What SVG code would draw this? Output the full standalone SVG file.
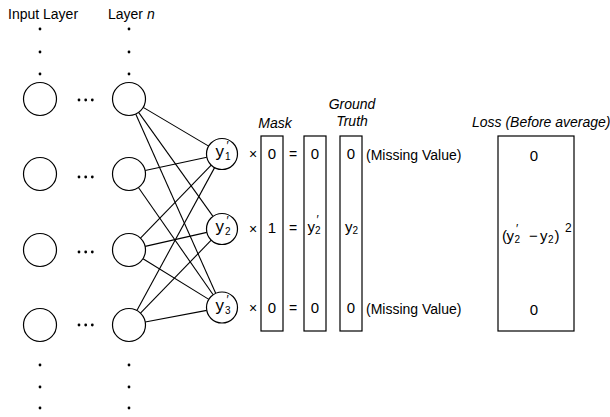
<svg xmlns="http://www.w3.org/2000/svg" width="610" height="417" viewBox="0 0 610 417">
<style>
text{font-family:"Liberation Sans",Arial,Helvetica,sans-serif;fill:#000;}
.lbl{font-size:14px;}
.it{font-size:14px;font-style:italic;}
.num{font-size:15px;text-anchor:middle;}
.op{font-size:14px;text-anchor:middle;}
.y{font-size:17px;}
.y15{font-size:15px;}
.sub{font-size:10px;}
.pr{font-size:12px;}
.node{fill:#fff;stroke:#000;stroke-width:1.2;}
.box{fill:#fff;stroke:#000;stroke-width:1.2;}
.edge{stroke:#000;stroke-width:1.1;fill:none;}
.dot{fill:#000;}
</style>
<rect width="610" height="417" fill="#fff"/>
<g id="titles">
<text class="lbl" x="8" y="19">Input Layer</text>
<text class="lbl" x="108" y="19">Layer <tspan font-style="italic">n</tspan></text>
<text class="it" x="275" y="128" text-anchor="middle">Mask</text>
<text class="it" x="352" y="109" text-anchor="middle">Ground</text>
<text class="it" x="352" y="126" text-anchor="middle">Truth</text>
<text class="it" x="472" y="127">Loss (Before average)</text>
</g>
<g id="dots">
<circle class="dot" cx="40" cy="29" r="1.4"/><circle class="dot" cx="40" cy="52" r="1.4"/><circle class="dot" cx="40" cy="74" r="1.4"/>
<circle class="dot" cx="129" cy="29" r="1.4"/><circle class="dot" cx="129" cy="52" r="1.4"/><circle class="dot" cx="129" cy="74" r="1.4"/>
<circle class="dot" cx="40" cy="365" r="1.4"/><circle class="dot" cx="40" cy="387" r="1.4"/><circle class="dot" cx="40" cy="408" r="1.4"/>
<circle class="dot" cx="129" cy="365" r="1.4"/><circle class="dot" cx="129" cy="387" r="1.4"/><circle class="dot" cx="129" cy="408" r="1.4"/>
<circle class="dot" cx="79" cy="100" r="1.4"/><circle class="dot" cx="85.7" cy="100" r="1.4"/><circle class="dot" cx="92.3" cy="100" r="1.4"/>
<circle class="dot" cx="79" cy="177" r="1.4"/><circle class="dot" cx="85.7" cy="177" r="1.4"/><circle class="dot" cx="92.3" cy="177" r="1.4"/>
<circle class="dot" cx="79" cy="252" r="1.4"/><circle class="dot" cx="85.7" cy="252" r="1.4"/><circle class="dot" cx="92.3" cy="252" r="1.4"/>
<circle class="dot" cx="79" cy="325" r="1.4"/><circle class="dot" cx="85.7" cy="325" r="1.4"/><circle class="dot" cx="92.3" cy="325" r="1.4"/>
</g>
<g id="connectors">
<line class="edge" x1="143.20" y1="107.40" x2="208.66" y2="146.11"/>
<line class="edge" x1="138.60" y1="112.42" x2="212.98" y2="216.39"/>
<line class="edge" x1="135.72" y1="114.07" x2="215.69" y2="293.34"/>
<line class="edge" x1="145.13" y1="170.53" x2="206.85" y2="157.26"/>
<line class="edge" x1="138.43" y1="187.54" x2="213.14" y2="294.78"/>
<line class="edge" x1="140.48" y1="238.15" x2="211.22" y2="165.13"/>
<line class="edge" x1="145.10" y1="246.37" x2="206.88" y2="232.41"/>
<line class="edge" x1="143.03" y1="258.68" x2="208.82" y2="299.35"/>
<line class="edge" x1="136.88" y1="310.50" x2="214.59" y2="167.62"/>
<line class="edge" x1="140.48" y1="313.15" x2="211.22" y2="240.13"/>
<line class="edge" x1="145.22" y1="321.95" x2="206.77" y2="310.37"/>
</g>
<g id="input-1"><circle class="node" cx="40" cy="99" r="16.5"/></g>
<g id="input-2"><circle class="node" cx="40" cy="174" r="16.5"/></g>
<g id="input-3"><circle class="node" cx="40" cy="250" r="16.5"/></g>
<g id="input-4"><circle class="node" cx="40" cy="325" r="16.5"/></g>
<g id="layer-n-1"><circle class="node" cx="129" cy="99" r="16.5"/></g>
<g id="layer-n-2"><circle class="node" cx="129" cy="174" r="16.5"/></g>
<g id="layer-n-3"><circle class="node" cx="129" cy="250" r="16.5"/></g>
<g id="layer-n-4"><circle class="node" cx="129" cy="325" r="16.5"/></g>
<g id="out-1"><circle class="node" cx="222" cy="154" r="15.5"/>
<text class="y" x="215.5" y="157">y<tspan class="sub" x="225" y="160">1</tspan><tspan class="pr" x="226.5" y="150">′</tspan></text></g>
<g id="out-2"><circle class="node" cx="222" cy="229" r="15.5"/>
<text class="y" x="215.5" y="232">y<tspan class="sub" x="225" y="235">2</tspan><tspan class="pr" x="226.5" y="225">′</tspan></text></g>
<g id="out-3"><circle class="node" cx="222" cy="307.5" r="15.5"/>
<text class="y" x="215.5" y="310.5">y<tspan class="sub" x="225" y="313.5">3</tspan><tspan class="pr" x="226.5" y="303.5">′</tspan></text></g>
<g id="mask"><rect class="box" x="261" y="136" width="22" height="195"/>
<text class="num" x="272" y="159">0</text><text class="num" x="272" y="233">1</text><text class="num" x="272" y="313">0</text></g>
<g id="ops">
<text class="op" x="253" y="159">×</text><text class="op" x="253" y="234">×</text><text class="op" x="253" y="313">×</text>
<text class="op" x="293" y="159">=</text><text class="op" x="293" y="233">=</text><text class="op" x="293" y="313">=</text>
</g>
<g id="product"><rect class="box" x="304" y="136" width="22" height="195"/>
<text class="num" x="315" y="159">0</text>
<text class="y15" x="307.5" y="232">y<tspan class="sub" x="315" y="234">2</tspan><tspan class="pr" x="316.5" y="224">′</tspan></text>
<text class="num" x="315" y="313">0</text></g>
<g id="ground-truth"><rect class="box" x="340" y="136" width="22" height="195"/>
<text class="num" x="351" y="159">0</text>
<text class="y15" x="345" y="232">y<tspan class="sub" x="352.5" y="234">2</tspan></text>
<text class="num" x="351" y="313">0</text></g>
<g id="missing">
<text class="lbl" x="366" y="160">(Missing Value)</text>
<text class="lbl" x="366" y="314">(Missing Value)</text>
</g>
<g id="loss"><rect class="box" x="498" y="136" width="76" height="195"/>
<text class="num" x="534" y="161">0</text>
<text class="y15" x="502" y="241">(<tspan x="506.5">y</tspan><tspan class="sub" x="514.5" y="243">2</tspan><tspan class="pr" x="516" y="233">′</tspan><tspan x="529" y="241">−</tspan><tspan x="540">y</tspan><tspan class="sub" x="548" y="243">2</tspan><tspan x="554.5" y="241">)</tspan><tspan style="font-size:12px" x="565" y="232">2</tspan></text>
<text class="num" x="534" y="315">0</text></g>
</svg>
